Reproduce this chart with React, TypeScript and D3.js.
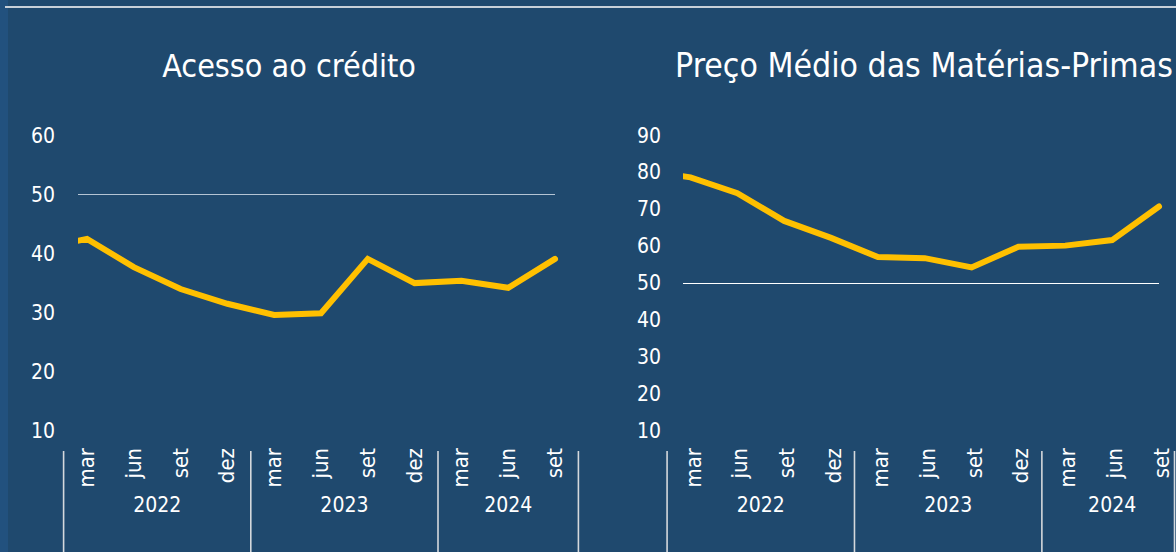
import React from "react";
import * as d3 from "d3";

const months = ["mar", "jun", "set", "dez", "mar", "jun", "set", "dez", "mar", "jun", "set"];
const yearGroups = [
  { label: "2022", start: 0, count: 4 },
  { label: "2023", start: 4, count: 4 },
  { label: "2024", start: 8, count: 3 },
];
// value of the period before the first category (dez 2021), clipped at the plot edge
const creditPrev = 40.7;
const creditValues = [42.4, 37.6, 33.9, 31.4, 29.5, 29.8, 39.0, 34.9, 35.3, 34.1, 39.0];
const creditTicks = [10, 20, 30, 40, 50, 60];
const pricePrev = 80.5;
const priceValues = [78.5, 74.2, 66.7, 62.1, 56.9, 56.6, 54.1, 59.7, 60.0, 61.5, 70.6];
const priceTicks = [10, 20, 30, 40, 50, 60, 70, 80, 90];
const referenceLevel = 50;

const W = 1176;
const H = 552;
const BG = "#1F496E";
const FONT = "'DejaVu Sans Condensed', 'DejaVu Sans', sans-serif";

type PanelProps = {
  id: string;
  title: string;
  titleX: number;
  titleSize: number;
  prev: number;
  values: number[];
  ticks: number[];
  firstX: number;
  lastX: number;
  clipLeft: number;
  tickRight: number;
  refColor: string;
  labelShift: number;
};

function Panel(p: PanelProps) {
  const x = d3.scaleLinear().domain([0, months.length - 1]).range([p.firstX, p.lastX]);
  const y = d3
    .scaleLinear()
    .domain([d3.min(p.ticks)!, d3.max(p.ticks)!])
    .range([430, 135]);
  const pts: [number, number][] = [[-1, p.prev], ...p.values.map((v, i) => [i, v] as [number, number])];
  const line = d3
    .line<[number, number]>()
    .x((d) => x(d[0]))
    .y((d) => y(d[1]));
  const bounds = [0, 4, 8, 11].map((i) => Math.min(x(i - 0.5), W - 1.5));
  return (
    <g>
      <defs>
        <clipPath id={`clip-${p.id}`}>
          <rect x={p.clipLeft} y={100} width={W - p.clipLeft} height={340} />
        </clipPath>
      </defs>
      <text
        x={p.titleX}
        y={77}
        textAnchor="middle"
        fill="#ffffff"
        fontSize={p.titleSize}
      >
        {p.title}
      </text>
      {p.ticks.map((t) => (
        <text
          key={t}
          x={p.tickRight}
          y={y(t)}
          dy="0.36em"
          textAnchor="end"
          fill="#ffffff"
          fontSize={21}
        >
          {t}
        </text>
      ))}
      <line
        x1={p.clipLeft}
        x2={x(months.length - 1)}
        y1={Math.round(y(referenceLevel)) + 0.5}
        y2={Math.round(y(referenceLevel)) + 0.5}
        stroke={p.refColor}
        strokeWidth={1.2}
      />
      <path
        d={line(pts) || ""}
        fill="none"
        stroke="#FFC000"
        strokeWidth={6}
        strokeLinecap="round"
        strokeLinejoin="miter"
        clipPath={`url(#clip-${p.id})`}
      />
      {months.map((m, i) => (
        <text
          key={i}
          transform={`translate(${x(i) + p.labelShift},448) rotate(-90)`}
          textAnchor="end"
          fill="#ffffff"
          fontSize={22}
        >
          {m}
        </text>
      ))}
      {bounds.map((b, i) => (
        <line key={i} x1={b} x2={b} y1={451} y2={H} stroke="#D4D8DC" strokeWidth={1.6} />
      ))}
      {yearGroups.map((g) => (
        <text
          key={g.label}
          x={(x(g.start) + x(g.start + g.count - 1)) / 2}
          y={512}
          textAnchor="middle"
          fill="#ffffff"
          fontSize={21}
        >
          {g.label}
        </text>
      ))}
    </g>
  );
}

export default function App() {
  return (
    <svg
      width={W}
      height={H}
      viewBox={`0 0 ${W} ${H}`}
      style={{ position: "absolute", left: 0, top: 0, fontFamily: FONT, fontStretch: "condensed" }}
    >
      <rect x={0} y={0} width={W} height={H} fill={BG} />
      <rect x={0} y={0} width={8} height={H} fill="#22517E" />
      <line x1={5} x2={W} y1={7} y2={7} stroke="#C8D0D8" strokeWidth={2} />
      <Panel
        id="credit"
        title="Acesso ao crédito"
        titleX={289}
        titleSize={32}
        prev={creditPrev}
        values={creditValues}
        ticks={creditTicks}
        firstX={87}
        lastX={555}
        clipLeft={78}
        tickRight={55}
        refColor="#B4C4D4"
        labelShift={7}
      />
      <Panel
        id="price"
        title="Preço Médio das Matérias-Primas"
        titleX={924}
        titleSize={33.5}
        prev={pricePrev}
        values={priceValues}
        ticks={priceTicks}
        firstX={690.5}
        lastX={1159}
        clipLeft={683}
        tickRight={661}
        refColor="#FFFFFF"
        labelShift={10}
      />
    </svg>
  );
}
